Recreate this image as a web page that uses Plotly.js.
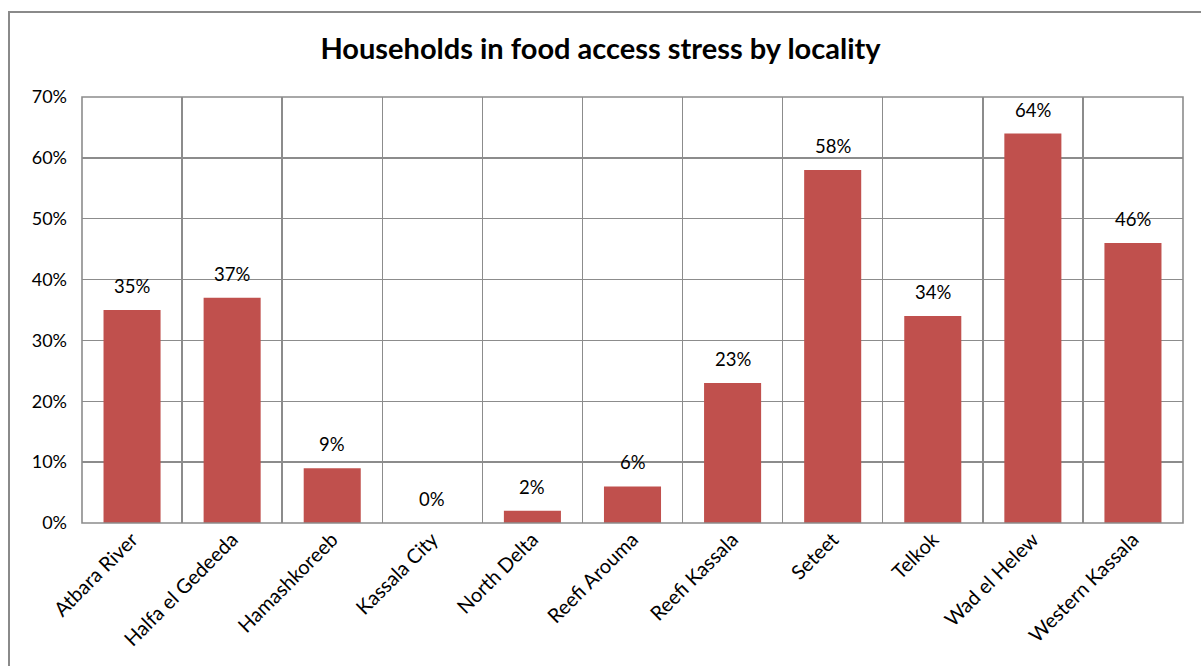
<!DOCTYPE html>
<html>
<head>
<meta charset="utf-8">
<script src="https://cdn.plot.ly/plotly-3.0.1.min.js"></script>
<style>
  html, body { margin: 0; padding: 0; background: #ffffff; overflow: hidden; }
  #frame { position: absolute; left: 8px; top: 11px; width: 1400px; height: 900px;
           border-left: 2px solid #8a8a8a; border-top: 2px solid #8a8a8a; }
  #chart { position: absolute; left: 0; top: 0; width: 1201px; height: 666px; }
</style>
</head>
<body>
<div id="frame"></div>
<div id="chart"></div>
<script>
const categories = ["Atbara River", "Halfa el Gedeeda", "Hamashkoreeb", "Kassala City",
  "North Delta", "Reefi Arouma", "Reefi Kassala", "Seteet", "Telkok", "Wad el Helew", "Western Kassala"];
const values = [0.35, 0.37, 0.09, 0.00, 0.02, 0.06, 0.23, 0.58, 0.34, 0.64, 0.46];
const labels = ["35%", "37%", "9%", "0%", "2%", "6%", "23%", "58%", "34%", "64%", "46%"];
const yTickVals = [0, 0.1, 0.2, 0.3, 0.4, 0.5, 0.6, 0.7];

const FONT = "Lato, 'Open Sans', sans-serif";
const GRID = "#8c8c8c";

const trace = {
  type: "bar",
  x: categories,
  y: values,
  marker: { color: "#C0504D" },
  hoverinfo: "x+y"
};

const annotations = categories.map((c, i) => ({
  x: c, y: values[i], xref: "x", yref: "y",
  text: labels[i], showarrow: false,
  yanchor: "middle", yshift: 24,
  font: { family: FONT, size: 18.5, color: "#000000" }
}));

const layout = {
  width: 1201, height: 666,
  margin: { l: 82, r: 18, t: 97, b: 143, autoexpand: false },
  paper_bgcolor: "rgba(0,0,0,0)",
  plot_bgcolor: "#ffffff",
  bargap: 0.43,
  showlegend: false,
  title: {
    text: "<b>Households in food access stress by locality</b>",
    font: { family: FONT, size: 29, color: "#000000" },
    x: 0.5, xanchor: "center", y: 0.926, yanchor: "middle"
  },
  xaxis: {
    type: "category",
    tickson: "boundaries",
    automargin: false,
    showgrid: true, gridcolor: GRID, gridwidth: 1.4,
    showline: false,
    ticks: "", tickangle: -45,
    tickfont: { family: FONT, size: 20, color: "#000000" },
    fixedrange: true
  },
  yaxis: {
    range: [0, 0.7],
    automargin: false,
    tickvals: yTickVals,
    tickformat: ".0%",
    showgrid: true, gridcolor: GRID, gridwidth: 1.4,
    showline: false,
    zeroline: false,
    ticks: "", ticklen: 0,
    ticklabelstandoff: 14,
    tickfont: { family: FONT, size: 18, color: "#000000" },
    fixedrange: true
  },
  shapes: [{
    type: "rect", xref: "paper", yref: "paper", x0: 0, x1: 1, y0: 0, y1: 1,
    line: { color: GRID, width: 1.6 }, fillcolor: "rgba(0,0,0,0)", layer: "above"
  }],
  annotations: annotations
};

Plotly.newPlot("chart", [trace], layout, { displayModeBar: false, staticPlot: true });
</script>
</body>
</html>
